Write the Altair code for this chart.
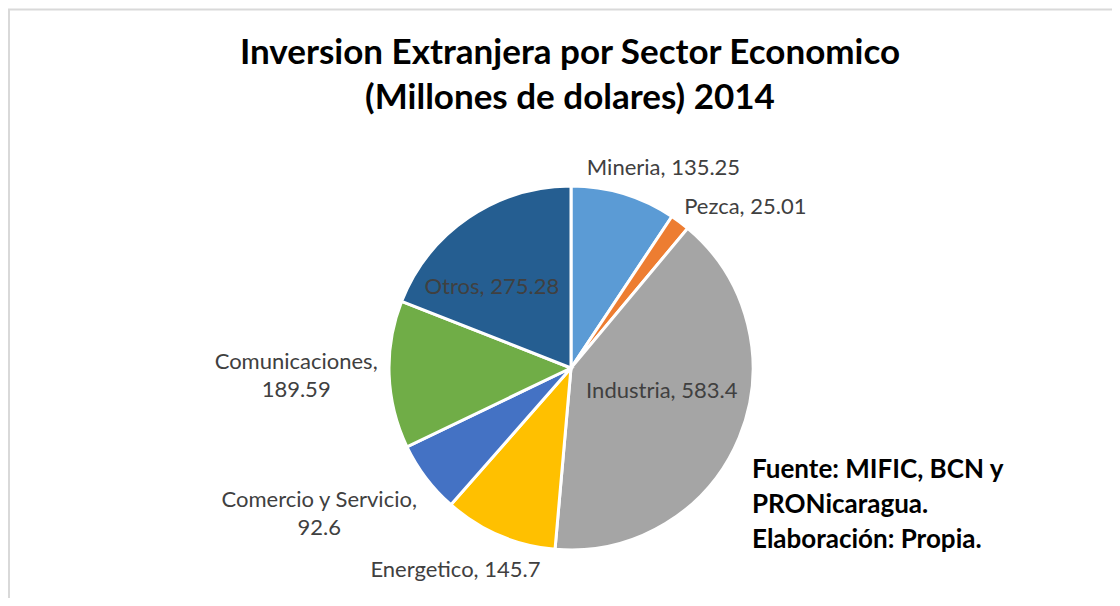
import altair as alt
import pandas as pd

sectors = ["Mineria", "Pezca", "Industria", "Energetico", "Comercio y Servicio", "Comunicaciones", "Otros"]
values = [135.25, 25.01, 583.4, 145.7, 92.6, 189.59, 275.28]
colors = ["#5B9BD5", "#ED7D31", "#A5A5A5", "#FFC000", "#4472C4", "#70AD47", "#255E91"]
wrapped = {"Comercio y Servicio", "Comunicaciones"}
title_lines = ["Inversion Extranjera por Sector Economico", "(Millones de dolares) 2014"]
source_lines = ["Fuente: MIFIC, BCN y", "PRONicaragua.", "Elaboración: Propia."]

labels = [f"{s},\n{v}" if s in wrapped else f"{s}, {v}" for s, v in zip(sectors, values)]
df = pd.DataFrame({"sector": sectors, "value": values, "order": list(range(len(sectors))), "label": labels})

W, H = 1104, 590
CX, CY, R = 563, 360, 182
FONT = "Lato"
LABEL_SIZE = 22

# label placement (radius, dx, dy) per sector -- styling only
placement = {
    "Mineria": (209, 32, 0),
    "Pezca": (201, 54, 0),
    "Industria": (95, 3, -13),
    "Energetico": (220, -29, 0),
    "Comercio y Servicio": (242, -59, -14),
    "Comunicaciones": (220, -55, -14),
    "Otros": (98, -24, 0),
}

base = alt.Chart(df).encode(
    theta=alt.Theta("value:Q", stack=True),
    order=alt.Order("order:Q"),
    x=alt.value(CX),
    y=alt.value(CY),
)

pie = base.mark_arc(outerRadius=R, stroke="white", strokeWidth=3).encode(
    color=alt.Color("sector:N", scale=alt.Scale(domain=sectors, range=colors), legend=None)
)

layers = [pie]
for s in sectors:
    r, dx, dy = placement[s]
    layers.append(
        base.transform_calculate(t=f"datum.sector == '{s}' ? datum.label : ''")
        .mark_text(radius=r, dx=dx, dy=dy, font=FONT, fontSize=LABEL_SIZE, color="#404040",
                   lineBreak="\n", lineHeight=28, align="center", baseline="middle")
        .encode(detail="sector:N", text="t:N")
    )

title = alt.Chart(pd.DataFrame({"t": ["\n".join(title_lines)]})).mark_text(
    font=FONT, fontSize=35, fontWeight="bold", color="#000000", lineBreak="\n", lineHeight=45,
    align="center", baseline="middle"
).encode(text="t:N", x=alt.value(562), y=alt.value(45))

source = alt.Chart(pd.DataFrame({"t": ["\n".join(source_lines)]})).mark_text(
    font=FONT, fontSize=26, fontWeight="bold", color="#000000", lineBreak="\n", lineHeight=35,
    align="left", baseline="middle"
).encode(text="t:N", x=alt.value(744), y=alt.value(462))

border_top = alt.Chart(pd.DataFrame({"a": [0]})).mark_rule(color="#d9d9d9", strokeWidth=2).encode(
    x=alt.value(0), x2=alt.value(W), y=alt.value(1.5)
)
border_left = alt.Chart(pd.DataFrame({"a": [0]})).mark_rule(color="#d9d9d9", strokeWidth=2).encode(
    x=alt.value(1), y=alt.value(1), y2=alt.value(H)
)

chart = alt.layer(border_top, border_left, *layers, title, source).properties(
    width=W, height=H, autosize="none", padding=0, background="white"
).configure_view(stroke=None)

chart.save("out.html", embed_options={"renderer": "svg", "actions": False})
